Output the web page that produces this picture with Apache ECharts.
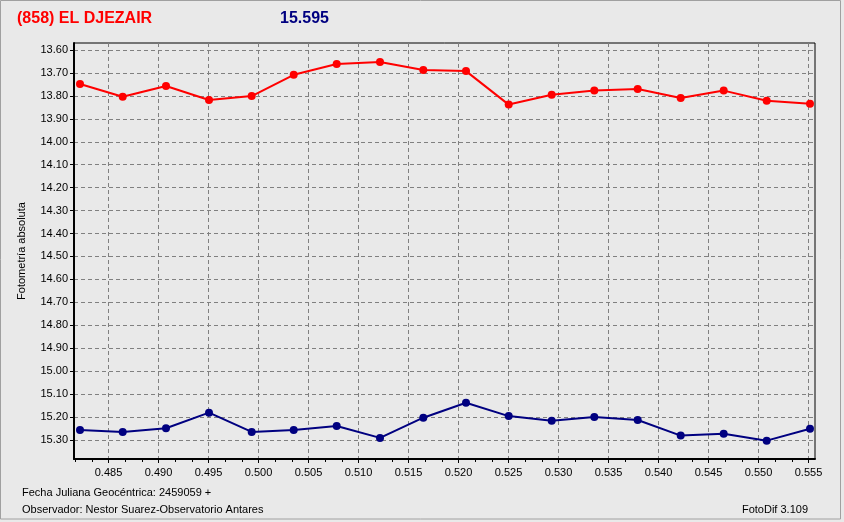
<!DOCTYPE html>
<html>
<head>
<meta charset="utf-8">
<script src="https://cdn.jsdelivr.net/npm/echarts@6/dist/echarts.min.js"></script>
<style>
html,body{margin:0;padding:0;background:#e9e9e9;}
#chart{width:844px;height:522px;}
</style>
</head>
<body>
<div id="chart"></div>
<script>
// ---- data ----
const titleText = "(858) EL DJEZAIR";
const magText = "15.595";
const yAxisName = "Fotometría absoluta";
const footer1 = "Fecha Juliana Geocéntrica: 2459059 +";
const footer2 = "Observador: Nestor Suarez-Observatorio Antares";
const footer3 = "FotoDif 3.109";

const xTicks = [0.485,0.490,0.495,0.500,0.505,0.510,0.515,0.520,0.525,0.530,0.535,0.540,0.545,0.550,0.555];
const yTicks = [13.60,13.70,13.80,13.90,14.00,14.10,14.20,14.30,14.40,14.50,14.60,14.70,14.80,14.90,15.00,15.10,15.20,15.30];

const jd = [0.48215,0.48642,0.49075,0.49505,0.49932,0.50352,0.50782,0.51215,0.51648,
            0.52075,0.52502,0.52932,0.53358,0.53792,0.54222,0.54652,0.55082,0.55515];
const redMag = [13.748,13.804,13.757,13.818,13.801,13.708,13.661,13.652,13.687,
                13.692,13.838,13.795,13.777,13.770,13.809,13.777,13.821,13.834];
const blueMag = [15.257,15.265,15.249,15.181,15.265,15.257,15.239,15.291,15.203,
                 15.138,15.196,15.216,15.200,15.213,15.281,15.273,15.303,15.251];

const xMin = 0.48155, xMax = 0.55565;
const yMin = 13.5695, yMax = 15.383;

// minor ticks: 3 subdivisions between labelled ticks
const xMinor = [];
const step = xTicks[1] - xTicks[0];
for (let t = xTicks[0] - step; t <= xTicks[xTicks.length-1] + step; t += step) {
  for (let k = 1; k < 3; k++) {
    const v = t + k * step / 3;
    if (v > xMin && v < xMax) xMinor.push(v);
  }
}

const font = "'Liberation Sans', Arial, sans-serif";

const chart = echarts.init(document.getElementById('chart'), null, {renderer:'canvas'});
chart.setOption({
  backgroundColor: '#e9e9e9',
  animation: false,
  grid: {
    left: 74, top: 43, right: 29, bottom: 63,
    show: true, borderColor: '#000', borderWidth: 1, backgroundColor: '#e9e9e9'
  },
  xAxis: [{
    type: 'value', min: xMin, max: xMax,
    axisLine: {show: true, onZero: false, lineStyle: {color: '#000', width: 2}},
    axisTick: {show: true, inside: false, length: 4, customValues: xTicks, lineStyle: {color: '#000'}},
    axisLabel: {customValues: xTicks, color: '#000', fontFamily: font, fontSize: 11, margin: 8,
                formatter: v => v.toFixed(3)},
    splitLine: {show: true, lineStyle: {color: '#808080', type: [4,3], width: 1}}
  },{
    type: 'value', min: xMin, max: xMax, position: 'bottom',
    axisLine: {show: false},
    axisTick: {show: true, length: 3, customValues: xMinor, lineStyle: {color: '#000'}},
    axisLabel: {show: false},
    splitLine: {show: false}
  }],
  yAxis: {
    type: 'value', inverse: true, min: yMin, max: yMax,
    axisLine: {show: true, onZero: false, lineStyle: {color: '#000', width: 2}},
    axisTick: {show: true, length: 4, customValues: yTicks, lineStyle: {color: '#000'}},
    axisLabel: {customValues: yTicks, color: '#000', fontFamily: font, fontSize: 11, margin: 6,
                formatter: v => v.toFixed(2)},
    splitLine: {show: true, lineStyle: {color: '#808080', type: [4,3], width: 1}}
  },
  series: [{
    type: 'line', xAxisIndex: 0,
    data: jd.map((x,i) => [x, redMag[i]]),
    symbol: 'circle', symbolSize: 8,
    itemStyle: {color: '#ff0000'},
    lineStyle: {color: '#ff0000', width: 2}
  },{
    type: 'line', xAxisIndex: 0,
    data: jd.map((x,i) => [x, blueMag[i]]),
    symbol: 'circle', symbolSize: 8,
    itemStyle: {color: '#000080'},
    lineStyle: {color: '#000080', width: 2}
  }],
  graphic: [
    {type:'rect', shape:{x:0.5, y:0.5, width:840, height:518.5},
     style:{fill:'none', stroke:'#a0a0a0', lineWidth:1}, silent:true},
    {type:'text', x:17, y:19, style:{text:titleText, fill:'#ff0000', font:"bold 16px 'Liberation Sans', Arial, sans-serif", align:'left', verticalAlign:'middle'}},
    {type:'text', x:280, y:19, style:{text:magText, fill:'#000080', font:"bold 16px 'Liberation Sans', Arial, sans-serif", align:'left', verticalAlign:'middle'}},
    {type:'text', x:22, y:251, rotation:Math.PI/2, style:{text:yAxisName, fill:'#000', font:"11px 'Liberation Sans', Arial, sans-serif", align:'center', verticalAlign:'middle'}},
    {type:'text', x:22, y:493, style:{text:footer1, fill:'#000', font:"11px 'Liberation Sans', Arial, sans-serif", align:'left', verticalAlign:'middle'}},
    {type:'text', x:22, y:510, style:{text:footer2, fill:'#000', font:"11px 'Liberation Sans', Arial, sans-serif", align:'left', verticalAlign:'middle'}},
    {type:'text', x:808, y:510, style:{text:footer3, fill:'#000', font:"11px 'Liberation Sans', Arial, sans-serif", align:'right', verticalAlign:'middle'}}
  ]
});
</script>
</body>
</html>
